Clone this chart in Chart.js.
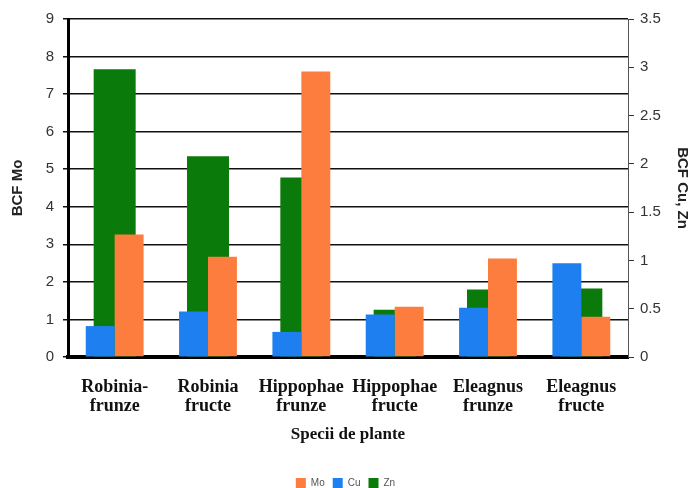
<!DOCTYPE html>
<html>
<head>
<meta charset="utf-8">
<script src="https://cdn.jsdelivr.net/npm/chart.js@4"></script>
<style>
html,body{margin:0;padding:0;background:#fff;}
#wrap{width:691px;height:488px;position:relative;}
</style>
</head>
<body>
<div id="wrap"><canvas id="c" width="691" height="488"></canvas></div>
<script>
const categories = [["Robinia-","frunze"],["Robinia","fructe"],["Hippophae","frunze"],["Hippophae","fructe"],["Eleagnus","frunze"],["Eleagnus","fructe"]];
const moValues = [3.26, 2.67, 7.6, 1.34, 2.62, 1.07];
const cuValues = [0.32, 0.47, 0.26, 0.44, 0.51, 0.97];
const znValues = [2.98, 2.08, 1.86, 0.49, 0.70, 0.71];
const leftTicks = [0,1,2,3,4,5,6,7,8,9];
const rightTicks = [0,0.5,1,1.5,2,2.5,3,3.5];
const legendOrder = ["Mo","Cu","Zn"];

const ORANGE = 'rgb(252,125,62)';
const BLUE = 'rgb(30,128,240)';
const GREEN = 'rgb(10,122,10)';

new Chart(document.getElementById('c'), {
  type: 'bar',
  data: {
    labels: categories,
    datasets: [
      {label:'Cu', data: cuValues, backgroundColor: BLUE, yAxisID:'y1', order:0,
       categoryPercentage:0.62, barPercentage:1.0},
      {label:'Mo', data: moValues, backgroundColor: ORANGE, yAxisID:'y', order:0,
       categoryPercentage:0.62, barPercentage:1.0},
      {label:'Zn', data: znValues, backgroundColor: GREEN, yAxisID:'y1', order:1,
       grouped:false, categoryPercentage:0.45, barPercentage:1.0}
    ]
  },
  options: {
    responsive:false,
    animation:false,
    devicePixelRatio:1,
    layout:{padding:{top:19,left:0,right:0,bottom:-10}},
    plugins:{
      tooltip:{enabled:false},
      legend:{
        position:'bottom',
        labels:{
          boxWidth:10, boxHeight:10, padding:8,
          font:{family:'Liberation Sans', size:10},
          color:'#555',
          sort:(a,b)=>legendOrder.indexOf(a.text)-legendOrder.indexOf(b.text)
        }
      }
    },
    scales:{
      x:{
        type:'category', offset:true,
        grid:{display:false},
        border:{display:true,color:'#000',width:4},
        ticks:{
          font:{family:'Liberation Serif', size:18, weight:'bold', lineHeight:1.1},
          color:'#111', padding:12, maxRotation:0, autoSkip:false
        },
        title:{display:true,text:'Specii de plante',
          font:{family:'Liberation Serif', size:17, weight:'bold'},
          color:'#111', padding:{top:0,bottom:25}},
        afterFit:(s)=>{ s.height = 113; }
      },
      y:{
        position:'left', min:0, max:9,
        afterBuildTicks:(s)=>{ s.ticks = leftTicks.map(v=>({value:v})); },
        grid:{color:'#111', lineWidth:1.5, tickLength:5, drawTicks:true},
        border:{display:true,color:'#000',width:3},
        ticks:{font:{family:'Liberation Sans', size:15}, color:'#333', padding:9,
          callback:(v)=>String(v)},
        title:{display:true,text:'BCF Mo',
          font:{family:'Liberation Sans', size:15, weight:'bold'},
          color:'#222', padding:{top:9,bottom:0}},
        afterFit:(s)=>{ s.width = 68; }
      },
      y1:{
        position:'right', min:0, max:3.5,
        afterBuildTicks:(s)=>{ s.ticks = rightTicks.map(v=>({value:v})); },
        grid:{drawOnChartArea:false, color:'#333', tickLength:6, lineWidth:1},
        border:{display:true,color:'#555',width:1},
        ticks:{font:{family:'Liberation Sans', size:15}, color:'#333', padding:6,
          callback:(v)=>String(v)},
        title:{display:true,text:'BCF Cu, Zn',
          font:{family:'Liberation Sans', size:15, weight:'bold'},
          color:'#222', padding:{top:0,bottom:0}},
        afterFit:(s)=>{ s.width = 63; }
      }
    }
  }
});
</script>
</body>
</html>
